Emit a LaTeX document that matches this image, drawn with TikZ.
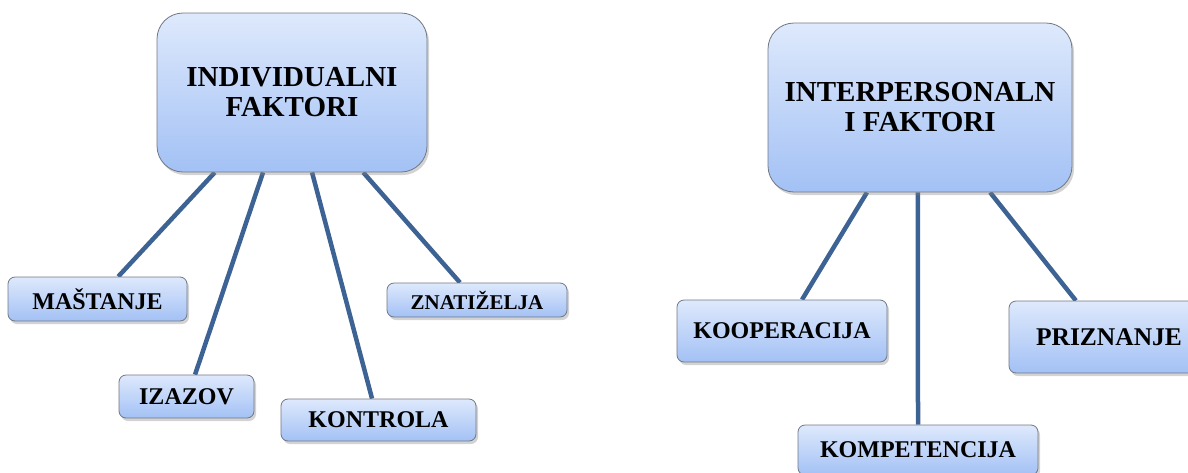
\documentclass[tikz,border=0pt]{standalone}
\usepackage{fontspec}
\setmainfont{Liberation Serif}
\usetikzlibrary{calc,shadows,backgrounds}

\definecolor{boxtop}{RGB}{222,233,252}
\definecolor{boxbot}{RGB}{163,193,245}
\definecolor{boxline}{RGB}{112,120,132}
\definecolor{linkblue}{RGB}{61,99,148}

\begin{document}
\begin{tikzpicture}[x=1pt,y=-1pt,
		faktor/.style={draw=boxline, line width=0.8pt, rounded corners=26pt,
			top color=boxtop, bottom color=boxbot, inner sep=0pt, align=center,
			drop shadow={shadow xshift=2pt, shadow yshift=-3pt, opacity=0.35},
			font=\fontsize{29}{30}\selectfont\bfseries},
		item/.style={faktor, rounded corners=7pt, font=\fontsize{24}{26}\selectfont\bfseries},
		link/.style={draw=linkblue, line width=4.5pt}]
		\useasboundingbox (0,0) rectangle (1188,472);

		% individualni faktori
		\node [faktor, minimum width=270pt, minimum height=159pt] (ind) at (292,92.5) {INDIVIDUALNI\\FAKTORI};
		\node [item, minimum width=179pt, minimum height=44pt] (mas) at (97.5,299) {MAŠTANJE};
		\node [item, minimum width=135pt, minimum height=43pt] (iza) at (186.5,396.5) {IZAZOV};
		\node [item, minimum width=195pt, minimum height=42pt] (kon) at (378.5,420) {KONTROLA};
		\node [item, minimum width=180pt, minimum height=34pt, font=\fontsize{21}{23}\selectfont\bfseries] (zna) at (477,300) {ZNATIŽELJA};

		% interpersonalni faktori
		\node [faktor, minimum width=304pt, minimum height=169pt] (int) at (920,107.5) {INTERPERSONALN\\I FAKTORI};
		\node [item, minimum width=210pt, minimum height=62pt] (koo) at (782,331) {KOOPERACIJA};
		\node [item, minimum width=200pt, minimum height=72pt, font=\fontsize{25.5}{27}\selectfont\bfseries] (pri) at (1109,337) {PRIZNANJE};
		\node [item, minimum width=240pt, minimum height=50pt] (kom) at (918,450) {KOMPETENCIJA};

		\begin{scope}[on background layer]
			\draw [link] ($(ind.south west)!0.215!(ind.south east)$) -- ($(mas.north west)!0.615!(mas.north east)$);
			\draw [link] ($(ind.south west)!0.393!(ind.south east)$) -- ($(iza.north west)!0.563!(iza.north east)$);
			\draw [link] ($(ind.south west)!0.574!(ind.south east)$) -- ($(kon.north west)!0.467!(kon.north east)$);
			\draw [link] ($(ind.south west)!0.763!(ind.south east)$) -- ($(zna.north west)!0.406!(zna.north east)$);
			\draw [link] ($(int.south west)!0.326!(int.south east)$) -- ($(koo.north west)!0.595!(koo.north east)$);
			\draw [link] ($(int.south west)!0.493!(int.south east)$) -- ($(kom.north west)!0.5!(kom.north east)$);
			\draw [link] ($(int.south west)!0.730!(int.south east)$) -- ($(pri.north west)!0.335!(pri.north east)$);
		\end{scope}
	\end{tikzpicture}
\end{document}
